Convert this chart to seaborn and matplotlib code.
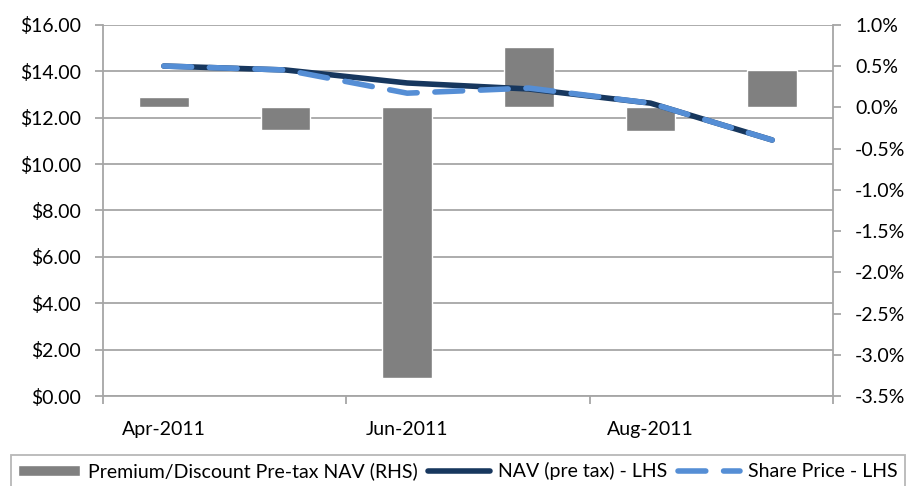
import matplotlib
matplotlib.use('Agg')
import matplotlib.pyplot as plt
import seaborn as sns
import pandas as pd
from matplotlib.ticker import FixedLocator, FuncFormatter, NullFormatter

# ---- data ----
months = ['Apr-2011', 'May-2011', 'Jun-2011', 'Jul-2011', 'Aug-2011', 'Sep-2011']
premium_pct = [0.13, -0.27, -3.28, 0.73, -0.28, 0.46]
nav_pre_tax = [14.23, 14.06, 13.50, 13.24, 12.63, 11.04]
share_price = [14.23, 14.06, 13.06, 13.28, 12.63, 11.04]
xtick_labels = ['Apr-2011', 'Jun-2011', 'Aug-2011']
left_ticks = [0, 2, 4, 6, 8, 10, 12, 14, 16]
right_ticks = [-3.5, -3.0, -2.5, -2.0, -1.5, -1.0, -0.5, 0.0, 0.5, 1.0]

sns.set_theme(style='white')
plt.rcParams['font.family'] = ['Lato', 'DejaVu Sans']

df = pd.DataFrame({'month': months, 'pos': range(len(months)),
                   'premium': premium_pct, 'nav': nav_pre_tax, 'share': share_price})

W, H = 914, 486
fig = plt.figure(figsize=(W / 100, H / 100), dpi=100)
ax = fig.add_axes([103 / W, 1 - 396 / H, (833 - 103) / W, (396 - 25) / H])
ax2 = ax.twinx()
ax3 = ax.twinx()

grid_c = '#a6a6a6'
txt_c = '#000000'

# bars on right axis
sns.barplot(data=df, x='month', y='premium', ax=ax2, color='#808080', width=0.41,
            saturation=1, label='Premium/Discount Pre-tax NAV (RHS)', zorder=3)
# lines on left scale (separate overlay axes)
sns.lineplot(data=df, x='pos', y='nav', ax=ax3, color='#17375E', lw=4,
             label='NAV (pre tax) - LHS', legend=False)
sns.lineplot(data=df, x='pos', y='share', ax=ax3, color='#558ED5', lw=4,
             linestyle='--', label='Share Price - LHS', legend=False)
ln = ax3.get_lines()
ln[0].set_solid_capstyle('round')
ln[1].set_dashes([5, 3.2])
ln[1].set_dash_capstyle('round')

# left axis
ax.set_ylim(0, 16)
ax.yaxis.set_major_locator(FixedLocator(left_ticks))
ax.yaxis.set_major_formatter(FuncFormatter(lambda v, p: f'${v:.2f}'))
ax.yaxis.grid(True, color=grid_c, lw=1.3)
ax.tick_params(axis='y', which='major', length=6, width=1.3, color=grid_c,
               labelsize=14, labelcolor=txt_c, pad=10, left=True)

# right axis
ax2.set_ylim(-3.5, 1.0)
ax2.yaxis.set_major_locator(FixedLocator(right_ticks))
ax2.yaxis.set_major_formatter(FuncFormatter(lambda v, p: f'{v:.1f}%'))
ax2.tick_params(axis='y', which='major', length=6, width=1.3, color=grid_c,
                labelsize=14, labelcolor=txt_c, pad=10, right=True)
ax2.set_ylabel('')

ax3.set_ylim(0, 16)
ax3.yaxis.set_visible(False)
ax3.set_ylabel('')

# x axis
for a in (ax, ax2, ax3):
    a.set_xlim(-0.5, len(months) - 0.5)
    a.set_xlabel('')
ax.xaxis.set_major_locator(FixedLocator([-0.5, 1.5, 3.5, 5.5]))
ax.xaxis.set_major_formatter(NullFormatter())
ax.xaxis.set_minor_locator(FixedLocator([0, 2, 4]))
ax.xaxis.set_minor_formatter(FuncFormatter(lambda v, p: xtick_labels[int(round(v)) // 2]))
ax.tick_params(axis='x', which='major', length=6, width=1.3, color=grid_c, bottom=True)
ax.tick_params(axis='x', which='minor', length=0, labelsize=14, labelcolor=txt_c, pad=18)
ax.set_ylabel('')

# spines
for a in (ax, ax2, ax3):
    for s in a.spines.values():
        s.set_visible(False)
ax.spines['left'].set_visible(True)
ax.spines['bottom'].set_visible(True)
ax2.spines['right'].set_visible(True)
for s in (ax.spines['left'], ax.spines['bottom'], ax2.spines['right']):
    s.set_color(grid_c)
    s.set_linewidth(1.3)

# layer order: grid (ax) < bars (ax2) < lines (ax3)
ax.set_zorder(0)
ax2.set_zorder(1)
ax3.set_zorder(2)
ax2.patch.set_visible(False)
ax3.patch.set_visible(False)
ax.patch.set_facecolor('white')

h2, l2 = ax2.get_legend_handles_labels()
h3, l3 = ax3.get_legend_handles_labels()
if ax2.get_legend() is not None:
    ax2.get_legend().remove()
leg = fig.legend(h2 + h3, l2 + l3, loc='center left', bbox_to_anchor=(11 / W, 15 / H),
                 ncol=3, frameon=True, fancybox=False, edgecolor=grid_c, fontsize=14,
                 handlelength=3.2, handletextpad=0.4, columnspacing=0.55,
                 borderpad=0.35, handleheight=0.5, borderaxespad=0)
leg.get_frame().set_linewidth(1.3)
for t in leg.get_texts():
    t.set_color(txt_c)

fig.savefig('out.png', dpi=100)
